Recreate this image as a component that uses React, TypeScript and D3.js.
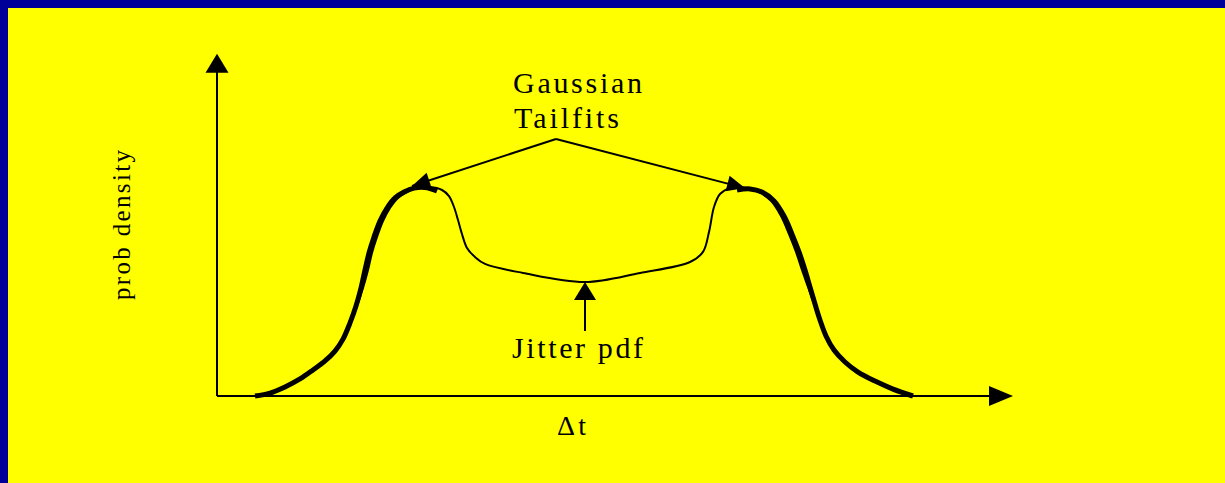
import React from "react";
import * as d3 from "d3";

const W = 1225;
const H = 483;

// Jitter pdf (thin line)
const jitterDt = [-33, -31.5, -30, -28.5, -27.2, -26, -25, -24.2, -23.5, -22.8, -22.2, -21.7, -21.3, -20.8, -20.2, -19.5, -18.7, -17.8, -16.8, -15.5, -14.3, -13.6, -13.1, -12.7, -12.3, -11.8, -11, -10, -6.2, 0, 5.5, 10.5, 11.8, 12.4, 12.9, 13.5, 14.5, 16.2, 17.4, 18.6, 19.6, 20.4, 21.1, 21.7, 22.3, 22.9, 23.5, 24.1, 24.9, 26, 27.3, 29, 30.8, 32.8];
const jitterPdf = [0, 0.014, 0.043, 0.081, 0.124, 0.167, 0.214, 0.271, 0.348, 0.429, 0.514, 0.6, 0.681, 0.757, 0.833, 0.895, 0.943, 0.971, 0.99, 0.995, 0.981, 0.952, 0.9, 0.838, 0.771, 0.705, 0.662, 0.629, 0.586, 0.543, 0.586, 0.638, 0.686, 0.781, 0.9, 0.962, 0.99, 0.99, 0.971, 0.929, 0.857, 0.771, 0.686, 0.6, 0.519, 0.438, 0.362, 0.286, 0.219, 0.162, 0.114, 0.071, 0.033, 0];

// Gaussian tail fits (thick lines)
const leftFitDt = [-33, -31.5, -30, -28.5, -27.2, -26, -25, -24.2, -23.5, -22.9, -22.4, -22, -21.6, -21.1, -20.5, -19.8, -19, -18.1, -17.1, -16, -14.8];
const leftFitPdf = [0, 0.014, 0.043, 0.081, 0.124, 0.167, 0.214, 0.271, 0.348, 0.429, 0.514, 0.6, 0.681, 0.757, 0.833, 0.895, 0.943, 0.971, 0.99, 0.993, 0.976];
const rightFitDt = [15.2, 16.5, 17.7, 18.9, 19.9, 20.7, 21.4, 22, 22.5, 23, 23.5, 24.1, 24.9, 26, 27.3, 29, 30.8, 32.8];
const rightFitPdf = [0.981, 0.986, 0.971, 0.929, 0.857, 0.771, 0.686, 0.6, 0.519, 0.438, 0.362, 0.286, 0.219, 0.162, 0.114, 0.071, 0.033, 0];

// Annotation anchors (data units)
const tailApex = { dt: -2.9, pdf: 1.224 };
const tailTargets = [
  { dt: -17.3, pdf: 1.0 },
  { dt: 16.0, pdf: 0.99 },
];
const jitterArrow = { dt: 0, from: 0.31, to: 0.543 };

const xDomain = [-36.8, 42.8];
const yMax = 1.63;

const labelTail = ["Gaussian", "Tailfits"];
const labelJitter = "Jitter pdf";
const labelX = "Δt";
const labelY = "prob density";

function arrowPath(tx: number, ty: number, fx: number, fy: number, len: number, hw: number) {
  const dx = tx - fx;
  const dy = ty - fy;
  const d = Math.hypot(dx, dy);
  const ux = dx / d;
  const uy = dy / d;
  const bx = tx - ux * len;
  const by = ty - uy * len;
  const px = -uy;
  const py = ux;
  return `M${tx},${ty}L${bx + px * hw},${by + py * hw}L${bx - px * hw},${by - py * hw}Z`;
}

export default function App() {
  const x = d3.scaleLinear().domain(xDomain).range([217, 1013]);
  const y = d3.scaleLinear().domain([0, 1]).range([396, 186]);

  const line = d3
    .line<[number, number]>()
    .x((d) => x(d[0]))
    .y((d) => y(d[1]))
    .curve(d3.curveCatmullRom.alpha(0.5));

  const jitter = line(jitterDt.map((v, i) => [v, jitterPdf[i]]) as [number, number][]) || "";
  const leftFit = line(leftFitDt.map((v, i) => [v, leftFitPdf[i]]) as [number, number][]) || "";
  const rightFit = line(rightFitDt.map((v, i) => [v, rightFitPdf[i]]) as [number, number][]) || "";

  const x0 = x(xDomain[0]);
  const x1 = x(xDomain[1]);
  const y0 = y(0);
  const yTop = y(yMax);

  const apx = x(tailApex.dt);
  const apy = y(tailApex.pdf);

  const fontStyle = { fontFamily: "Liberation Serif" };

  return (
    <svg
      width={W}
      height={H}
      style={{ position: "fixed", left: 0, top: 0, display: "block" }}
    >
      <rect x={0} y={0} width={W} height={H} fill="#000099" />
      <rect x={8} y={8} width={W - 8} height={H - 8} fill="#FFFF00" />

      {/* axes */}
      <line x1={x0} y1={y0} x2={x0} y2={yTop + 18} stroke="#000" strokeWidth={2} />
      <path d={arrowPath(x0, yTop, x0, y0, 19, 11.5)} fill="#000" />
      <line x1={x0} y1={y0} x2={x1 - 20} y2={y0} stroke="#000" strokeWidth={2} />
      <path d={arrowPath(x1, y0, x0, y0, 24, 10)} fill="#000" />

      {/* curves */}
      <path d={jitter} fill="none" stroke="#000" strokeWidth={2} />
      <path d={leftFit} fill="none" stroke="#000" strokeWidth={5} />
      <path d={rightFit} fill="none" stroke="#000" strokeWidth={5} />

      {/* Gaussian tailfit annotation */}
      {tailTargets.map((t, i) => {
        const tx = x(t.dt);
        const ty = y(t.pdf);
        return (
          <g key={i}>
            <line x1={apx} y1={apy} x2={tx} y2={ty} stroke="#000" strokeWidth={2} />
            <path d={arrowPath(tx, ty, apx, apy, 18, 8)} fill="#000" />
          </g>
        );
      })}

      {/* Jitter pdf annotation */}
      <line
        x1={x(jitterArrow.dt)}
        y1={y(jitterArrow.from)}
        x2={x(jitterArrow.dt)}
        y2={y(jitterArrow.to) + 15}
        stroke="#000"
        strokeWidth={2}
      />
      <path
        d={arrowPath(x(jitterArrow.dt), y(jitterArrow.to), x(jitterArrow.dt), y(jitterArrow.from), 18, 11)}
        fill="#000"
      />

      <text x={513} y={93} style={fontStyle} fontSize={30} textLength={129} lengthAdjust="spacing">{labelTail[0]}</text>
      <text x={514} y={128} style={fontStyle} fontSize={30} textLength={105} lengthAdjust="spacing">{labelTail[1]}</text>
      <text x={512} y={358} style={fontStyle} fontSize={30} textLength={131} lengthAdjust="spacing">{labelJitter}</text>
      <text x={557} y={435} style={fontStyle} fontSize={28} textLength={29} lengthAdjust="spacing">{labelX}</text>
      <text
        transform={`translate(130,300) rotate(-90)`}
        style={fontStyle}
        fontSize={25}
        textLength={150}
        lengthAdjust="spacing"
      >
        {labelY}
      </text>
    </svg>
  );
}
